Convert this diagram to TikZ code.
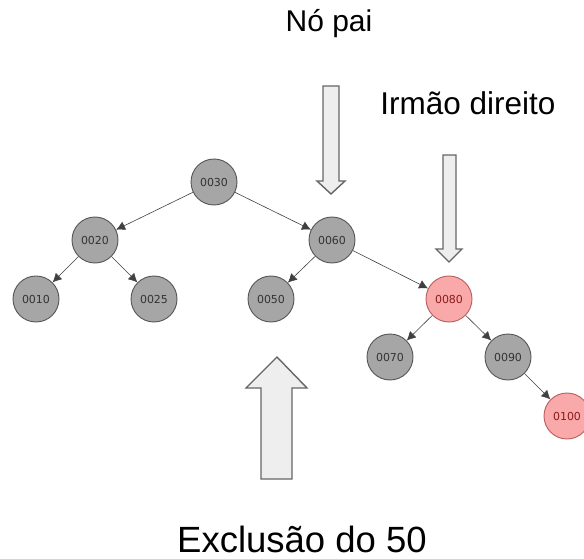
\documentclass[tikz,border=0pt]{standalone}
\usepackage{fontspec}
\setmainfont{Liberation Sans}
\newfontfamily\nodefont{DejaVu Sans}
\usetikzlibrary{arrows.meta}
\definecolor{nodegray}{HTML}{A6A6A6}
\definecolor{nodeborder}{HTML}{555555}
\definecolor{pinkfill}{HTML}{F9A9A9}
\definecolor{pinkborder}{HTML}{B85C5C}
\definecolor{pinktext}{HTML}{8B1A1A}
\definecolor{arrowfill}{HTML}{EEEEEE}
\definecolor{arrowline}{HTML}{666666}
\tikzset{
  blacknode/.style={circle, draw=nodeborder, fill=nodegray, line width=0.9pt, minimum size=46pt, inner sep=0pt, font=\nodefont\fontsize{11}{12}\selectfont, text=black!80},
  rednode/.style={blacknode, draw=pinkborder, fill=pinkfill, text=pinktext},
  edge/.style={draw=black!75, line width=0.6pt, -{Latex[length=9pt,width=9pt]}},
  bigarrow/.style={draw=arrowline, fill=arrowfill, line width=1.4pt, line join=miter},
  label/.style={anchor=base, inner sep=0pt, text=black}
}
\begin{document}
\begin{tikzpicture}[x=1pt,y=-1pt]
\useasboundingbox (0,0) rectangle (584,559);
\clip (0,0) rectangle (584,559);
\node[blacknode] (n30) at (214,182) {0030};
\node[blacknode] (n20) at (95,240) {0020};
\node[blacknode] (n60) at (332,240) {0060};
\node[blacknode] (n10) at (36,299) {0010};
\node[blacknode] (n25) at (154,299) {0025};
\node[blacknode] (n50) at (271,299) {0050};
\node[rednode] (n80) at (449,299) {0080};
\node[blacknode] (n70) at (390,357) {0070};
\node[blacknode] (n90) at (508,357) {0090};
\node[rednode] (n100) at (567,416) {0100};
\draw[edge] (n30) -- (n20);
\draw[edge] (n30) -- (n60);
\draw[edge] (n20) -- (n10);
\draw[edge] (n20) -- (n25);
\draw[edge] (n60) -- (n50);
\draw[edge] (n60) -- (n80);
\draw[edge] (n80) -- (n70);
\draw[edge] (n80) -- (n90);
\draw[edge] (n90) -- (n100);
% Nó pai arrow
\draw[bigarrow] (323,86) -- (339,86) -- (339,181) -- (345,181) -- (331,194) -- (317,181) -- (323,181) -- cycle;
% Irmão direito arrow
\draw[bigarrow] (443,155) -- (456,155) -- (456,249) -- (462,249) -- (449,262) -- (436,249) -- (443,249) -- cycle;
% Exclusão arrow
\draw[bigarrow] (277,357) -- (307,388) -- (292,388) -- (292,479) -- (261,479) -- (261,388) -- (246,388) -- cycle;
\node[label, font=\fontsize{30}{36}\selectfont] (tpai) at (329,32) {Nó pai};
\node[label, font=\fontsize{31.5}{38}\selectfont] (tirm) at (468,115) {Irmão direito};
\node[label, font=\fontsize{36.5}{44}\selectfont] (texc) at (302,552) {Exclusão do 50};
\end{tikzpicture}
\end{document}
